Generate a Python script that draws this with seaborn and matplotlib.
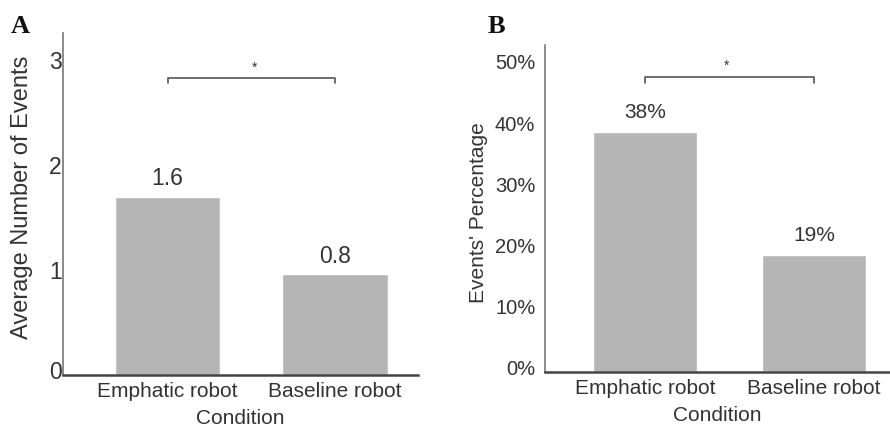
import matplotlib
matplotlib.use("Agg")
import matplotlib.pyplot as plt
import matplotlib.transforms as mtransforms
import seaborn as sns

# data
conditions = ["Emphatic robot", "Baseline robot"]
avg_events = [1.70, 0.96]
avg_labels = ["1.6", "0.8"]
event_pct = [39.2, 19.1]
pct_labels = ["38%", "19%"]
a_ticks = [0, 1, 2, 3]
b_ticks = [0, 10, 20, 30, 40, 50]

sns.set_style("white")
plt.rcParams["font.family"] = ["Liberation Sans", "DejaVu Sans"]

bar_color = "#b5b5b5"
txt = "#333333"
line_col = "#555555"

fig = plt.figure(figsize=(8.9, 4.29), dpi=100)

# --- Panel A ---
axA = fig.add_axes([0.0708, 0.1259, 0.399, 0.797])
sns.barplot(x=conditions, y=avg_events, color=bar_color, saturation=1,
            width=0.63, ax=axA)
axA.set_xlim(-0.624, 1.496)
axA.set_ylim(0, 3.26)
axA.set_yticks(a_ticks)
axA.set_yticklabels([str(t) for t in a_ticks])
axA.tick_params(axis="y", length=0, pad=1, labelsize=16.5, labelcolor=txt)
axA.tick_params(axis="x", length=0, pad=5, labelsize=15, labelcolor=txt)
axA.set_xlabel("Condition", fontsize=15, color=txt, labelpad=6)
axA.set_ylabel("Average Number of Events", fontsize=17, color=txt)
axA.yaxis.set_label_coords(-0.085, 0.52)
# the zero label sits a little above the axis line in the original
zshift = mtransforms.ScaledTranslation(0, 5 / 100, fig.dpi_scale_trans)
lblA = axA.get_yticklabels()
lblA[0].set_transform(lblA[0].get_transform() + zshift)
for i, lab in enumerate(avg_labels):
    axA.text(i, avg_events[i] + 0.06, lab, ha="center", va="bottom",
             fontsize=16.5, color=txt)
axA.plot([0, 0, 1, 1], [2.78, 2.83, 2.83, 2.78], color=line_col, lw=1.2)
axA.text(0.52, 2.86, "*", ha="center", va="bottom", fontsize=10, color=txt)

# --- Panel B ---
axB = fig.add_axes([0.6124, 0.1329, 0.3876, 0.7622])
sns.barplot(x=conditions, y=event_pct, color=bar_color, saturation=1,
            width=0.615, ax=axB)
axB.set_xlim(-0.592, 1.45)
axB.set_ylim(0, 53.4)
axB.set_yticks(b_ticks)
axB.set_yticklabels([f"{t}%" for t in b_ticks])
axB.tick_params(axis="y", length=0, pad=7, labelsize=14.5, labelcolor=txt)
axB.tick_params(axis="x", length=0, pad=5, labelsize=15, labelcolor=txt)
axB.set_xlabel("Condition", fontsize=15, color=txt, labelpad=6)
axB.set_ylabel("Events' Percentage", fontsize=15, color=txt)
axB.yaxis.set_label_coords(-0.165, 0.486)
shift = mtransforms.ScaledTranslation(0, 4 / 100, fig.dpi_scale_trans)
for lbl in axB.get_yticklabels():
    lbl.set_transform(lbl.get_transform() + shift)
for i, lab in enumerate(pct_labels):
    axB.text(i, event_pct[i] + 1.6, lab, ha="center", va="bottom",
             fontsize=15, color=txt)
axB.plot([0, 0, 1, 1], [47.2, 48.2, 48.2, 47.2], color=line_col, lw=1.2)
axB.text(0.48, 48.8, "*", ha="center", va="bottom", fontsize=10, color=txt)

for ax in (axA, axB):
    ax.spines["top"].set_visible(False)
    ax.spines["right"].set_visible(False)
    ax.spines["left"].set_color("#777777")
    ax.spines["left"].set_linewidth(1.2)
    ax.spines["bottom"].set_color("#444444")
    ax.spines["bottom"].set_linewidth(1.8)

fig.text(0.0225, 0.923, "A", family="Liberation Serif", fontweight="bold",
         fontsize=19, ha="center", va="baseline", color="#111111")
fig.text(0.558, 0.923, "B", family="Liberation Serif", fontweight="bold",
         fontsize=19, ha="center", va="baseline", color="#111111")

fig.savefig("out.png", dpi=100)
